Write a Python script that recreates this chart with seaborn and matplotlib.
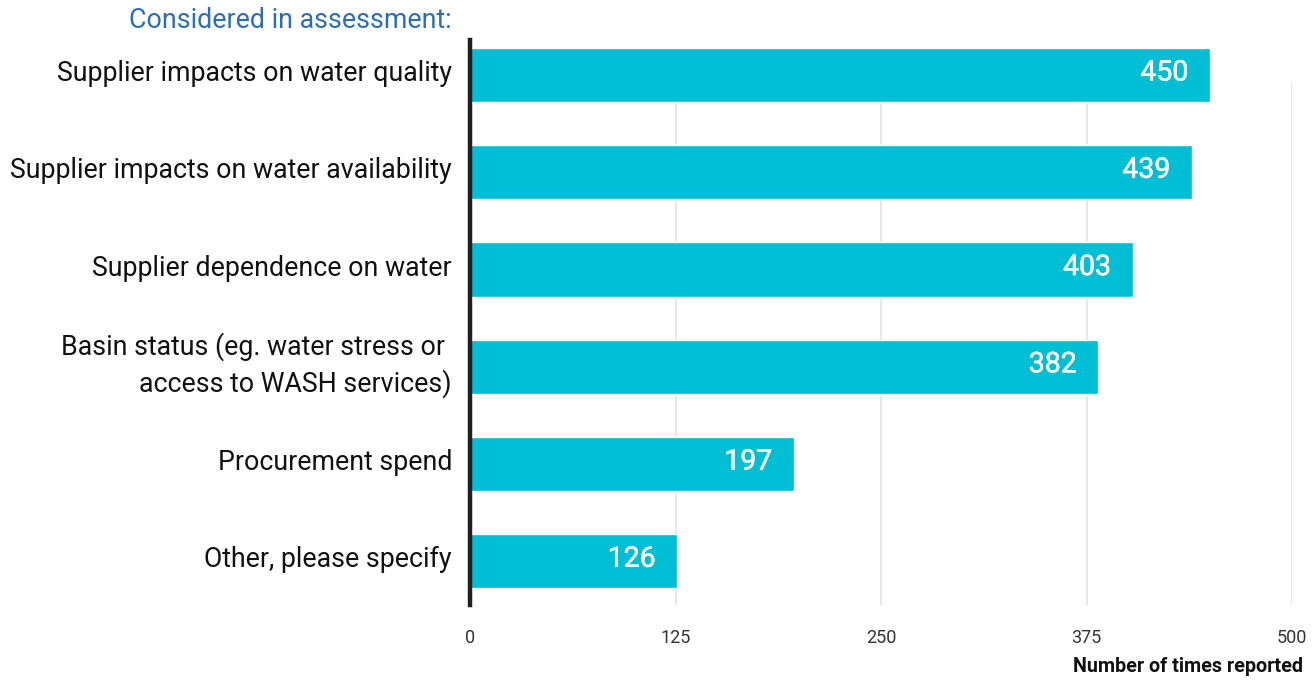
import matplotlib
matplotlib.use("Agg")
import matplotlib.pyplot as plt
import matplotlib.patheffects as pe
import matplotlib.transforms as mtransforms
import seaborn as sns
import pandas as pd

categories = [
    "Supplier impacts on water quality",
    "Supplier impacts on water availability",
    "Supplier dependence on water",
    "Basin status (eg. water stress or \naccess to WASH services)",
    "Procurement spend",
    "Other, please specify",
]
values = [450, 439, 403, 382, 197, 126]
xticks = [0, 125, 250, 375, 500]
title = "Considered in assessment:"
xlabel = "Number of times reported"

sns.set_theme(style="white")
plt.rcParams["font.family"] = ["Roboto", "DejaVu Sans"]

df = pd.DataFrame({"cat": categories, "val": values})

fig = plt.figure(figsize=(13.12, 6.81), dpi=100)
ax = fig.add_axes([470 / 1312, 1 - 605 / 681, (1292 - 470) / 1312, (605 - 40) / 681])

sns.barplot(data=df, x="val", y="cat", color="#00BED4", saturation=1, width=0.556, ax=ax, zorder=3)

ax.set_xlim(0, 500)
ax.set_ylim(5.45, -0.36)

# gridlines
ax.vlines(xticks[1:], 0.07, 5.45, color="#dfe4e8", linewidth=1.2, zorder=1)

for s in ["top", "right", "bottom"]:
    ax.spines[s].set_visible(False)
ax.spines["left"].set_color("#231F20")
ax.spines["left"].set_linewidth(3.2)
ax.spines["left"].set_zorder(5)

ax.set_xticks(xticks)
ax.set_xticklabels([str(t) for t in xticks], fontsize=13, color="#333333")
ax.tick_params(axis="x", length=0, pad=17)
ax.tick_params(axis="y", length=0, labelleft=False)
ax.set_ylabel("")
ax.set_xlabel("")

# category labels, drawn left of the axis
lab_tr = mtransforms.blended_transform_factory(ax.transAxes, ax.transData) + \
    mtransforms.ScaledTranslation(-18 / 100, 1.5 / 100, fig.dpi_scale_trans)
for i, c in enumerate(categories):
    ax.text(0, i, c, transform=lab_tr, ha="right", va="center", fontsize=19.3,
            color="#111111", linespacing=1.38, multialignment="right")

for i, v in enumerate(values):
    ax.text(v - 13, i - 0.02, str(v), ha="right", va="center", color="white", fontsize=20.5,
            zorder=6, path_effects=[pe.withStroke(linewidth=0.35, foreground="white")])

fig.text(452 / 1312, 1 - 21 / 681, title, ha="right", va="center", color="#2A6EBB", fontsize=19.3)
fig.text(1303 / 1312, 1 - 667 / 681, xlabel, ha="right", va="center", color="#111111", fontsize=14.2, fontweight="bold")

fig.savefig("out.png", dpi=100)
